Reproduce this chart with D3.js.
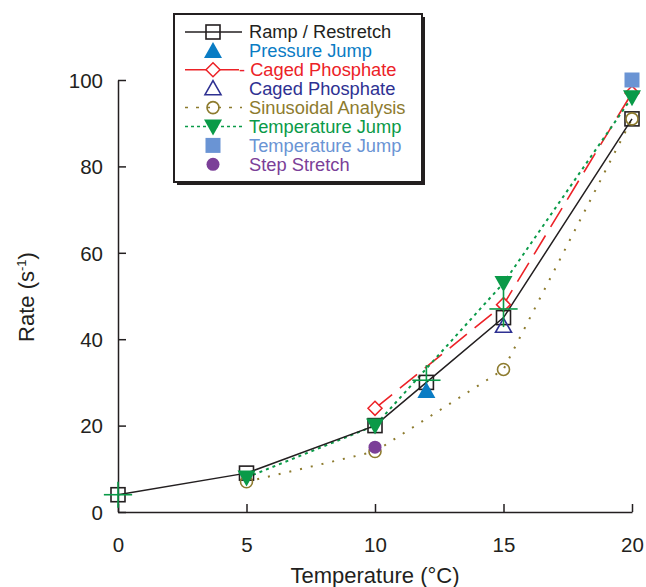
<!DOCTYPE html>
<html>
<head>
<meta charset="utf-8">
<script src="https://cdn.jsdelivr.net/npm/d3@7"></script>
<style>
  body { margin: 0; background: #fff; }
  svg { font-family: "Liberation Sans", Arial, Helvetica, sans-serif; }
</style>
</head>
<body>
<div id="chart"></div>
<script>
// data
const rampRestretch = [[0, 4], [5, 9], [10, 20], [12, 30], [15, 45], [20, 91]];
const pressureJump = [[12, 28]];
const cagedPhosphateRed = [[10, 24], [15, 48], [20, 97]];
const cagedPhosphateBlue = [[15, 43]];
const sinusoidal = [[5, 7], [10, 14], [15, 33], [20, 91]];
const tempJumpGreen = [[5, 8], [10, 20], [15, 53], [20, 96]];
const tempJumpBlue = [[20, 100]];
const stepStretch = [[10, 15]];
// error crosses [x, y, xerr, yerr]
const errorCrosses = [[0, 4, 0.55, 3], [12, 30.5, 0.55, 3.5], [15, 47, 0.55, 4.2]];
const xTicks = [0, 5, 10, 15, 20];
const yTicks = [0, 20, 40, 60, 80, 100];

const W = 646, H = 587;
const svg = d3.select("#chart").append("svg")
    .attr("width", W)
    .attr("height", H);

const x = d3.scaleLinear().domain([0, 20]).range([118, 632]);
const y = d3.scaleLinear().domain([0, 100]).range([512, 80]);

// axes
const xAxis = svg.append("g")
    .attr("transform", `translate(0,${y(0)})`)
    .call(d3.axisBottom(x).tickValues(xTicks).tickSizeInner(-8).tickSizeOuter(0).tickPadding(25));
const yAxis = svg.append("g")
    .attr("transform", `translate(${x(0)},0)`)
    .call(d3.axisLeft(y).tickValues(yTicks).tickSizeInner(-8).tickSizeOuter(0).tickPadding(15));
[xAxis, yAxis].forEach(a => {
    a.selectAll("path, line").attr("stroke", "#231f20").attr("stroke-width", 1.5);
    a.selectAll("text").attr("fill", "#231f20").style("font-size", "20.5px");
});
yAxis.selectAll("text").attr("dy", "0.36em");

svg.append("text")
    .attr("x", 375).attr("y", 583)
    .attr("text-anchor", "middle")
    .style("font-size", "22px")
    .attr("fill", "#231f20")
    .text("Temperature (°C)");

const yl = svg.append("text")
    .attr("transform", "translate(34,297) rotate(-90)")
    .attr("text-anchor", "middle")
    .style("font-size", "22px")
    .attr("fill", "#231f20");
yl.append("tspan").text("Rate (s");
yl.append("tspan").attr("dy", -8).style("font-size", "13px").text("-1");
yl.append("tspan").attr("dy", 8).text(")");

// lines
const line = d3.line().x(d => x(d[0])).y(d => y(d[1]));
const series = [
    { data: sinusoidal, color: "#8d7b2e", dash: "2,9", width: 2 },
    { data: cagedPhosphateRed, color: "#ec2227", dash: "22,10", width: 1.6 },
    { data: tempJumpGreen, color: "#0a9a48", dash: "3,4", width: 2 },
    { data: rampRestretch, color: "#231f20", dash: null, width: 1.5 }
];
series.forEach(s => {
    svg.append("path")
        .datum(s.data)
        .attr("d", line)
        .attr("fill", "none")
        .attr("stroke", s.color)
        .attr("stroke-width", s.width)
        .attr("stroke-dasharray", s.dash);
});

// marker drawing helpers
function marker(g, type, color, cx, cy) {
    if (type === "square") {
        g.append("rect").attr("x", cx - 7).attr("y", cy - 7).attr("width", 14).attr("height", 14)
            .attr("fill", "none").attr("stroke", color).attr("stroke-width", 1.6);
    } else if (type === "triUp") {
        g.append("path").attr("d", `M${cx},${cy - 9}L${cx + 9},${cy + 7}L${cx - 9},${cy + 7}Z`)
            .attr("fill", color);
    } else if (type === "triUpOpen") {
        g.append("path").attr("d", `M${cx},${cy - 8}L${cx + 8},${cy + 6}L${cx - 8},${cy + 6}Z`)
            .attr("fill", "none").attr("stroke", color).attr("stroke-width", 1.6);
    } else if (type === "triDown") {
        g.append("path").attr("d", `M${cx - 9},${cy - 7}L${cx + 9},${cy - 7}L${cx},${cy + 9}Z`)
            .attr("fill", color);
    } else if (type === "diamond") {
        g.append("path").attr("d", `M${cx},${cy - 7}L${cx + 7},${cy}L${cx},${cy + 7}L${cx - 7},${cy}Z`)
            .attr("fill", "#fff").attr("stroke", color).attr("stroke-width", 1.5);
    } else if (type === "circleOpen") {
        g.append("circle").attr("cx", cx).attr("cy", cy).attr("r", 6)
            .attr("fill", "none").attr("stroke", color).attr("stroke-width", 1.6);
    } else if (type === "circle") {
        g.append("circle").attr("cx", cx).attr("cy", cy).attr("r", 6.5).attr("fill", color);
    } else if (type === "squareFill") {
        g.append("rect").attr("x", cx - 7.5).attr("y", cy - 7.5).attr("width", 15).attr("height", 15)
            .attr("fill", color);
    }
}

const pts = svg.append("g");
const pointSets = [
    { data: cagedPhosphateRed, type: "diamond", color: "#ec2227" },
    { data: tempJumpBlue, type: "squareFill", color: "#6a94d4" },
    { data: rampRestretch, type: "square", color: "#231f20" },
    { data: sinusoidal, type: "circleOpen", color: "#8d7b2e" },
    { data: stepStretch, type: "circle", color: "#7b3f98" },
    { data: cagedPhosphateBlue, type: "triUpOpen", color: "#2e3192" },
    { data: tempJumpGreen, type: "triDown", color: "#0a9a48" }
];
pointSets.forEach(s => s.data.forEach(d => marker(pts, s.type, s.color, x(d[0]), y(d[1]))));

// green error crosses
errorCrosses.forEach(d => {
    pts.append("line").attr("x1", x(d[0] - d[2])).attr("x2", x(d[0] + d[2]))
        .attr("y1", y(d[1])).attr("y2", y(d[1]))
        .attr("stroke", "#0a9a48").attr("stroke-width", 1.6);
    pts.append("line").attr("x1", x(d[0])).attr("x2", x(d[0]))
        .attr("y1", y(d[1] - d[3])).attr("y2", y(d[1] + d[3]))
        .attr("stroke", "#0a9a48").attr("stroke-width", 1.6);
});
pressureJump.forEach(d => marker(pts, "triUp", "#0a7cc4", x(d[0]), y(d[1])));

// legend
const legendItems = [
    { label: "Ramp / Restretch", type: "square", color: "#231f20", dash: "none", lc: "#231f20" },
    { label: "Pressure Jump", type: "triUp", color: "#0a7cc4" },
    { label: "- Caged Phosphate", type: "diamond", color: "#ec2227", dash: "22,10", lc: "#ec2227" },
    { label: "Caged Phosphate", type: "triUpOpen", color: "#2e3192" },
    { label: "Sinusoidal Analysis", type: "circleOpen", color: "#8d7b2e", dash: "3,8", lc: "#8d7b2e" },
    { label: "Temperature Jump", type: "triDown", color: "#0a9a48", dash: "3,3", lc: "#0a9a48" },
    { label: "Temperature Jump", type: "squareFill", color: "#6a94d4" },
    { label: "Step Stretch", type: "circle", color: "#7b3f98" }
];
const lg = svg.append("g");
lg.append("rect").attr("x", 177).attr("y", 17).attr("width", 248).attr("height", 168).attr("fill", "#231f20");
lg.append("rect").attr("x", 174).attr("y", 14).attr("width", 248).attr("height", 168)
    .attr("fill", "#fff").attr("stroke", "#231f20").attr("stroke-width", 2);
legendItems.forEach((it, i) => {
    const cy = 32 + i * 18.9;
    if (it.lc) {
        lg.append("line").attr("x1", 185).attr("x2", 242).attr("y1", cy).attr("y2", cy)
            .attr("stroke", it.lc).attr("stroke-width", 1.5)
            .attr("stroke-dasharray", it.dash === "none" ? null : it.dash);
    }
    marker(lg, it.type, it.color, 213, cy);
    lg.append("text").attr("x", it.label.startsWith("-") ? 239 : 249).attr("y", cy).attr("dy", "0.35em")
        .style("font-size", "18.3px").attr("fill", it.color).text(it.label);
});
</script>
</body>
</html>
